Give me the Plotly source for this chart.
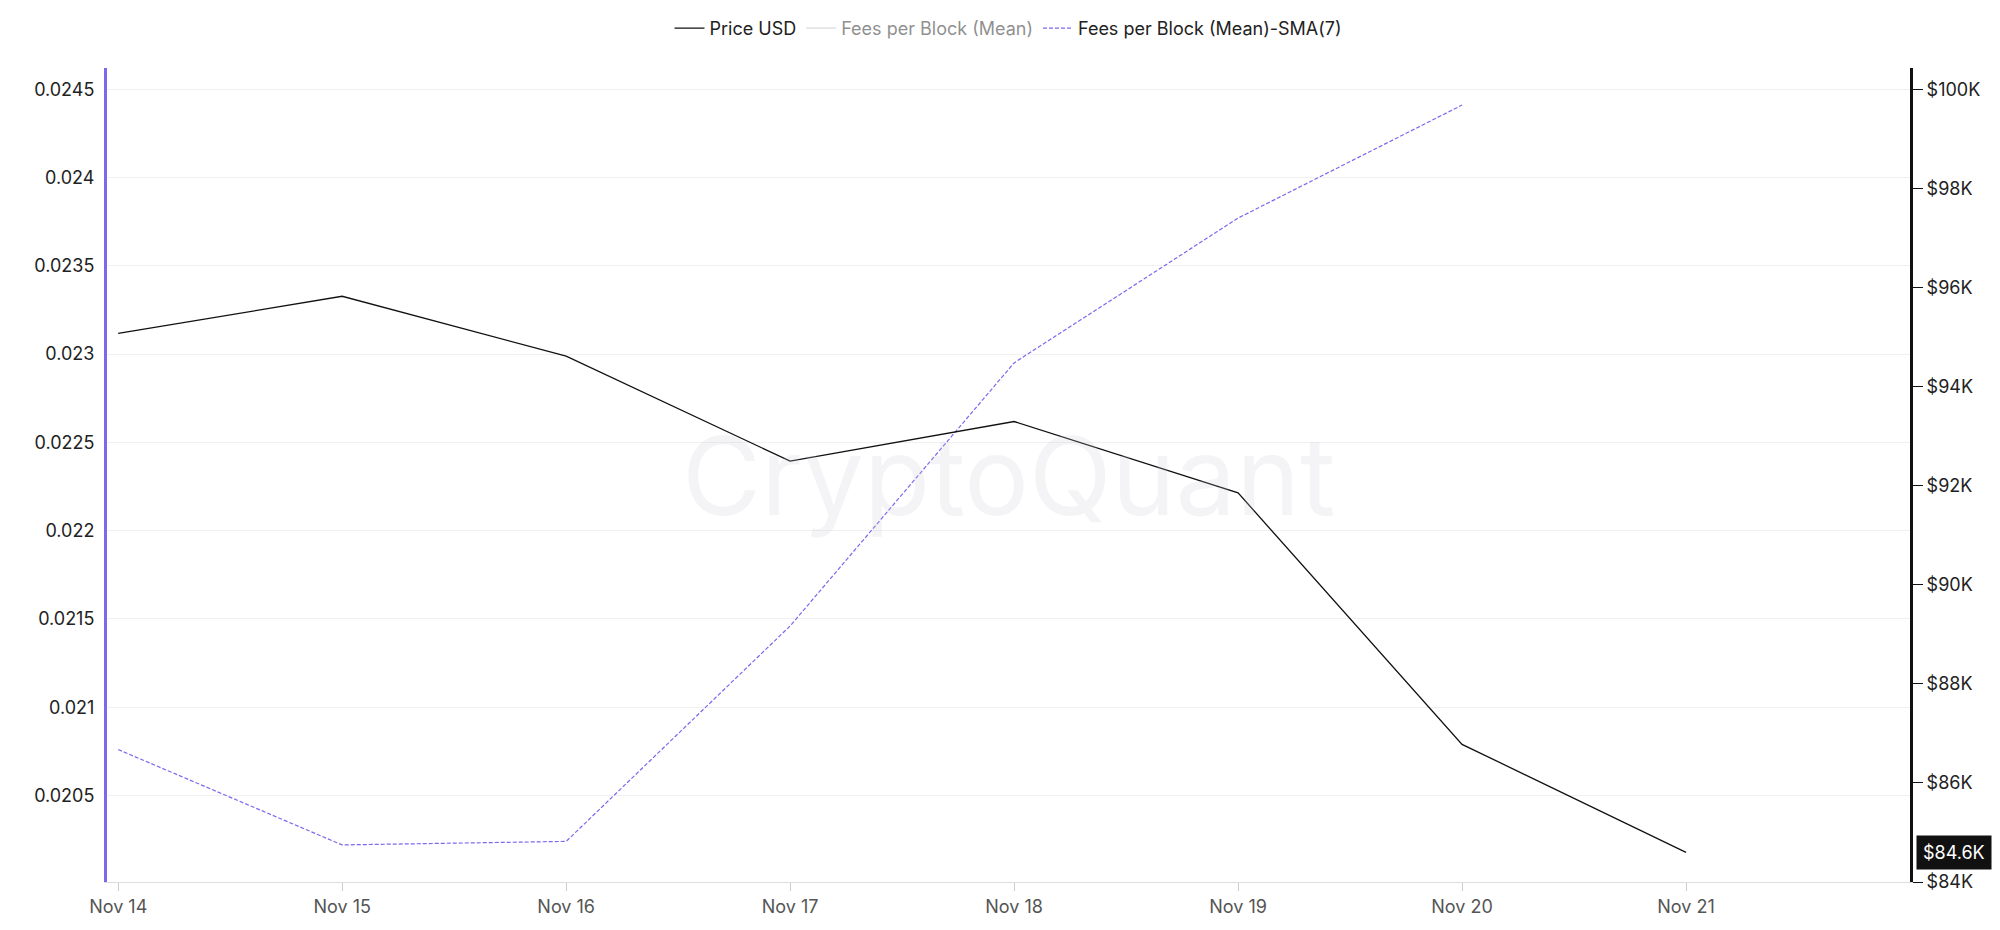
import plotly.graph_objects as go

dates = ["2024-11-14","2024-11-15","2024-11-16","2024-11-17","2024-11-18","2024-11-19","2024-11-20","2024-11-21"]
price_usd = [95080, 95830, 94620, 92500, 93300, 91860, 86780, 84600]
sma_dates = dates[:7]
fees_sma7 = [0.02076, 0.02022, 0.02024, 0.02146, 0.02295, 0.02377, 0.02441]
fees_mean = [0.0198, 0.0195, 0.0203, 0.0232, 0.0251, 0.0247, 0.0239]
tick_vals = dates
tick_text = ["Nov 14","Nov 15","Nov 16","Nov 17","Nov 18","Nov 19","Nov 20","Nov 21"]
left_ticks = [0.0205,0.021,0.0215,0.022,0.0225,0.023,0.0235,0.024,0.0245]
right_ticks = [84000,86000,88000,90000,92000,94000,96000,98000,100000]
right_text = ["$84K","$86K","$88K","$90K","$92K","$94K","$96K","$98K","$100K"]

fig = go.Figure()
fig.add_trace(go.Scatter(x=dates, y=price_usd, name="Price USD", yaxis="y2",
                         mode="lines", line=dict(color="#111111", width=1.3)))
fig.add_trace(go.Scatter(x=sma_dates, y=fees_mean, name="Fees per Block (Mean)",
                         mode="lines", line=dict(color="#bbbbbb", width=1.3), visible="legendonly"))
fig.add_trace(go.Scatter(x=sma_dates, y=fees_sma7, name="Fees per Block (Mean)-SMA(7)",
                         mode="lines", line=dict(color="#7b68ee", width=1.2, dash="4px,2px")))

fig.update_layout(
    width=2000, height=930, plot_bgcolor="white", paper_bgcolor="white",
    font=dict(family="Inter, Noto Sans, sans-serif", size=18, color="#333"),
    margin=dict(l=99, r=98, t=60, b=56, autoexpand=False),
    showlegend=True,
    legend=dict(orientation="h", x=0.5, xanchor="center", y=0.998, yanchor="top", yref="container",
                font=dict(size=18, color="#222")),
    xaxis=dict(type="date", range=["2024-11-13 22:48", "2024-11-22 00:00"],
               tickvals=tick_vals, ticktext=tick_text, showgrid=False,
               ticks="outside", ticklen=8, tickcolor="#ccc", showline=True, linecolor="#ddd",
               tickfont=dict(color="#555")),
    yaxis=dict(range=[0.02001, 0.02462], tickvals=left_ticks,
               ticktext=[str(v) for v in left_ticks], gridcolor="#f0f0f0",
               showline=True, linecolor="#7b68ee", linewidth=3, zeroline=False,
               ticks="outside", ticklen=6, tickcolor="white",
               tickfont=dict(color="#222")),
    yaxis2=dict(range=[84000, 100440], overlaying="y", side="right",
                tickvals=right_ticks, ticktext=right_text, showgrid=False,
                showline=True, linecolor="#111", linewidth=3, zeroline=False,
                ticks="outside", ticklen=10, tickcolor="#111", tickfont=dict(color="#222")),
    annotations=[
        dict(text="CryptoQuant", xref="paper", yref="paper", x=0.5, y=0.5, showarrow=False,
             font=dict(size=108, color="rgba(200,200,210,0.2)")),
        dict(text="$84.6K", xref="paper", yref="y2", x=1.0, y=84600, xanchor="left",
             showarrow=False, bgcolor="#111", font=dict(color="white", size=18),
             borderpad=6, xshift=6),
    ],
)
fig.write_html("out.html")
